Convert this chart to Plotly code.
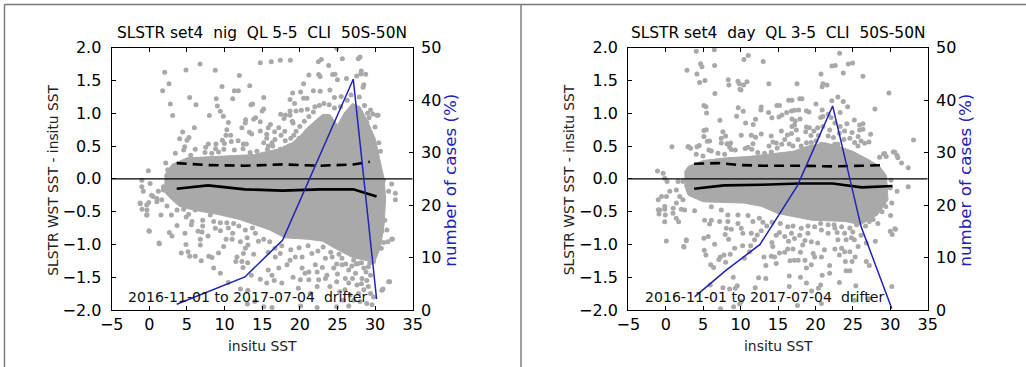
import plotly.graph_objects as go

W, H = 1026, 367
DOT = "#a9a9a9"
BLUE = "#2222b4"
FONT = "DejaVu Sans"

# ---------- left panel (night) ----------
night_title = "SLSTR set4  nig  QL 5-5  CLI  50S-50N"
night_cloud_x = [2, 3, 5, 8, 11, 14, 15, 17, 19, 20, 21, 22, 23, 24, 25, 26, 27, 28, 29, 30, 30.7, 31.2,
                 31.4, 31.2, 30.7, 30, 29, 28, 27, 25, 23, 21, 18, 16, 14, 12, 9, 6, 4, 3, 2]
night_cloud_y = [0.05, 0.22, 0.32, 0.34, 0.35, 0.37, 0.4, 0.45, 0.55, 0.65, 0.78, 0.88, 0.98, 0.98, 0.82, 1.02, 1.15, 1.1, 0.88, 0.62, 0.25, 0,
                 -0.3, -0.7, -1.05, -1.25, -1.25, -1.22, -1.2, -1.08, -0.95, -0.92, -0.9, -0.78, -0.7, -0.62, -0.54, -0.48, -0.42, -0.32, -0.2]
night_points = [
 (2.04,1.625),(2.62,1.45),(1.77,1.345),(2.79,1.14),(3.1,.965),(4.87,1.66),(6.74,1.75),(8.77,1.655),(11.96,1.575),(14.75,1.77),
 (9.66,1.41),(11.3,1.345),(11.83,1.345),(13.34,1.42),(5.36,1.24),(6.2,1.13),(8.9,1.22),(9.04,1.11),(11.08,1.22),(13.5,1.13),
 (13.73,1.14),(9.44,1.03),(9.84,.955),(7.98,.965),(10.5,.86),(12.8,.9),(12.76,.85),(13.87,.91),(14.13,.93),(14.75,.87),
 (12.3,.78),(10.3,.75),(5.98,.78),(4.43,.715),(4.03,.61),(5,.59),(5.27,.63),(10.19,.665),(10.8,.665),(13.3,.71),(13.6,.685),
 (14.75,.73),(9.7,.59),(9.97,.54),(8.86,.53),(7.84,.53),(7.49,.48),(4.7,.49),(4.57,.44),(6.1,.45),(10.9,.57),(11.8,.58),
 (12.5,.53),(12.9,.53),(9.9,.45),(8.8,.46),(11.3,.44),(12.45,.46),(8.3,.39),(9.2,.41),(7.4,.4),(5.5,.36),(3.46,.39),(14.3,.42),(13.4,.4),
 (16.2,1.787),(17.4,1.81),(18.74,1.81),(22.46,1.787),(22.86,1.82),(23.83,1.73),(25.65,1.83),(27.77,1.83),(28,1.86),(21.2,1.584),
 (22.5,1.59),(22.7,1.56),(24.36,1.59),(24.67,1.595),(25,1.51),(26.2,1.53),(28.17,1.645),(27.55,1.57),(28.75,1.595),(28.1,1.6),
 (20.5,1.45),(28.5,1.435),(28.4,1.396),(19.05,1.31),(20.1,1.325),(21.8,1.345),(22.7,1.335),(24,1.355),(15.2,1.24),(18.7,1.21),
 (20.5,1.23),(20.95,1.23),(24.6,1.24),(25.5,1.254),(19.3,1.15),(15.2,1.066),(15,1.035),(18.7,1.035),(20.2,1.045),(21,1.06),(19.5,1.035),
 (18.1,.975),(18.7,.97),(17.45,.985),(17.9,.92),(19,.88),(19.1,.85),(16.1,.83),(15.8,.78),(16.65,.72),(17.2,.78),(18,.725),
 (15.6,.68),(17.5,.665),(19.5,.725),(19.2,.665),(15.6,.62),(18.07,.58),(16.7,.6),(16.3,.55),(15.8,.5),(17.4,.45),(18.3,.43),(15.7,.45),
 (30.25,.97),(29.7,.99),(29.4,1.05),(30,.79),(28.9,.86),(29.2,.93),(30.5,.55),(30.7,.42),(24.9,1.99),(30.4,.97),
 (22,1.1),(22.6,1.12),(23.2,1.15),(23.9,1.13),(24.6,1.08),(25.4,1.1),(26.3,1.2),(26.8,1.28),(27.9,1.25),(28.6,1.12),(29,1.0),
 (21.2,.95),(21.8,1.02),(20.6,.88),(20,.8),(20.9,.72),(19.9,.62),(18.8,.62),(16.4,.5),(15.2,.55),(18.6,.5),
 (31.58,-.78),(32.3,-.917),(31.7,-.96),(31.14,-.97),(30.83,-1.06),(31.94,-1.57),(31.05,-1.68),(15.2,-.92),(16,-.96),(16.74,-1.19),
 (17.4,-1.14),(18.3,-1.31),(18.7,-1.24),(19.4,-1.19),(20.3,-1.19),(15.8,-1.39),(17.2,-1.36),(16.3,-1.47),(16.6,-1.55),(19.1,-1.5),
 (20.3,-1.36),(20.7,-1.44),(20.07,-1.54),(21.2,-1.42),(22.06,-1.31),(22.3,-1.42),(21.2,-1.54),(22.5,-1.54),(23.6,-1.47),(24.5,-1.36),
 (25.6,-1.31),(26.5,-1.39),(27.8,-1.29),(28.5,-1.36),(29.1,-1.34),(27.4,-1.44),(26.05,-1.52),(24.9,-1.57),(28.26,-1.52),(29.4,-1.47),
 (29.8,-1.26),(27.15,-1.24),(25.6,-1.21),(23.4,-1.21),(21.6,-1.14),(24.3,-1.19),(26.5,-1.59),(27.6,-1.62),(24,-1.64),(22.3,-1.64),
 (26,-1.69),(29.1,-1.64),(29.8,-1.8),(29.4,-1.75),(28.5,-1.69),(27.8,-1.75),(26.7,-1.77),(25.8,-1.85),(27.15,-1.85),(28,-1.87),
 (28.9,-1.9),(29.6,-1.92),(26.5,-1.94),(24.9,-1.95),(22.3,-1.96),(20.1,-1.94),(16.3,-1.96),(15.2,-1.95),(21.4,-1.75),(19.8,-1.67),(17.6,-1.59),(15.6,-1.59),
 (19.9,-1.05),(18.8,-1.08),(17.6,-1.02),(16.7,-1.06),(15.8,-1.12),(21.1,-1.02),(22.4,-1.1),(23.1,-1.04),(24.1,-1.12),(24.9,-1.3),(25.2,-1.15),
 (26.1,-1.3),(26.9,-1.33),(27.5,-1.3),(28.2,-1.28),(28.8,-1.42),(29.3,-1.28),(23,-1.35),(23.4,-1.52),(25,-1.45),(27,-1.52),(28.9,-1.55),(25.3,-1.72),(28.2,-1.6),
 (-1.2,-.38),(-.97,-.465),(-.31,-.55),(-.09,-.36),(0,-.8),(1.33,-.99),(1,-.35),(-.31,-.475),(1.55,-.55),(2.93,-.55),(2.35,-.415),
 (3.68,-.475),(4.56,-.465),(4.9,-.58),(3.68,-.71),(2.66,-.82),(3.01,-.87),(4.74,-.83),(4.87,-1),(4.25,-1.13),(5.14,-1.11),(5.36,-1.18),
 (6.1,-1.18),(6.9,-1.25),(7.9,-1.18),(8.33,-1.2),(9.2,-1.13),(9.88,-1.03),(6.78,-.92),(6.78,-1.01),(6.47,-.8),(7,-.81),(7.8,-.87),
 (5.58,-.7),(5.67,-.65),(7.09,-.63),(7.09,-.72),(8.77,-.755),(9.44,-.79),(8.55,-.65),(9.44,-.67),(10.3,-.67),(10.2,-.92),(11,-.92),
 (11.08,-.83),(12.1,-.96),(12.76,-1.06),(13.1,-1.01),(12.5,-1.14),(11.65,-1.19),(11.5,-1.26),(12.3,-1.26),(13.07,-1.28),(13.87,-1.15),
 (12.45,-1.35),(8.55,-1.36),(9.44,-1.44),(10.5,-1.58),(13.56,-1.47),(14.75,-1.53),(13.1,-1.7),(14,-1.87),(13.03,-1.91),(12.1,-1.68),
 (5.23,-.54),(6.1,-.475),(8.1,-.55),(9.2,-.5),(11.2,-.68),(12.76,-.78),(14.09,-.83),(11.9,-.72),(13,-.9),(14.5,-.95),(13.7,-.75),(10.5,-.75),
 (-1,-.02),(-.13,.125),(-1,-.12),(-.8,-.19),(-1.23,-.37),(.3,-.25),(1,-.3),(-.35,-.4),(-.35,-.55),(-.04,-.79),(1.3,-.98),(.1,-.07),
 (1.87,-.12),(1.65,-.32),(.5,-.27),(1.2,-.19),(2.18,.24),(2.44,.14),(1.87,-.17),
 (32.2,-.08),(31.8,-.19),(32.7,-.22),(32.7,-.32),(31.1,-.02),(31.3,-.63),(30.9,-.8),(32.2,-.92),(31.8,-1.57),(30.9,-1.7),
]
night_bin_x = [3.64, 7.8, 12.7, 17.7, 22.7, 27.1, 30.2]
night_pct = [1.1, 3.5, 6.3, 13.3, 29.6, 44, 2.1]
night_mean = [-0.15, -0.1, -0.16, -0.18, -0.16, -0.16, -0.27]
night_std_x = [3.64, 7.8, 12.7, 17.7, 22.7, 27.1, 29.3]
night_std = [0.24, 0.21, 0.2, 0.22, 0.2, 0.22, 0.26]

# ---------- right panel (day) ----------
day_title = "SLSTR set4  day  QL 3-5  CLI  50S-50N"
day_cloud_x = [2.5, 3, 5, 8, 11, 14, 17, 19, 21.3, 23, 25, 27, 28.5, 29.5,
               29.7, 28.3, 26, 24, 19.5, 15, 12.8, 10.5, 5, 3, 2.5]
day_cloud_y = [0.1, 0.19, 0.28, 0.32, 0.34, 0.38, 0.42, 0.5, 0.55, 0.5, 0.42, 0.3, 0.2, 0.05,
               -0.32, -0.55, -0.7, -0.65, -0.63, -0.53, -0.42, -0.37, -0.35, -0.25, -0.1]
day_points = [
 (4.08,1.945),(6.49,1.97),(10.45,1.82),(11.03,1.88),(13.03,1.79),(4.66,1.757),(4.84,1.71),(6.53,1.73),(2.84,1.655),(4.17,1.6),
 (4.53,1.47),(5.24,1.5),(8.35,1.51),(8.44,1.43),(9.65,1.487),(9.82,1.45),(10.4,1.43),(10.85,1.48),(9.91,1.365),(10.05,1.355),
 (13.78,1.45),(6.57,1.3),(5.1,1.12),(5.37,1.1),(5.46,1.005),(9.69,1.086),(10.36,1.03),(9.47,.954),(12.76,1.096),(12.72,1.05),
 (13.74,1.01),(14.85,1.12),(14.18,.93),(12,.91),(7.24,.893),(10.67,.85),(11.69,.83),(5.42,.75),(5.1,.736),(7.64,.72),(5.1,.644),
 (8,.654),(10.09,.665),(11.43,.665),(12,.634),(12.76,.685),(14.09,.654),(7.42,.62),(5.86,.578),(5.55,.573),(7.42,.548),(8.18,.537),
 (8.67,.548),(11.65,.537),(14.32,.563),(14.76,.548),(.83,.49),(3.06,.49),(3.33,.466),(4.17,.49),(4.48,.507),(8.53,.487),(8.75,.446),
 (9.29,.441),(10.62,.461),(10.98,.482),(11.5,.451),(5.77,.441),(6.09,.426),(6.98,.39),(4.08,.375),(4.97,.35),(7.87,.375),(12.3,.4),(14.1,.41),(13.2,.39),
 (23.23,1.914),(24.4,1.75),(24.97,1.767),(22.2,1.72),(22.65,1.73),(23.72,1.615),(20.74,1.6),(26.35,1.564),(17.54,1.45),(21,1.45),
 (21.54,1.43),(20.9,1.406),(29.82,1.31),(16.42,1.198),(16.87,1.2),(17.9,1.22),(18.2,1.22),(22.2,1.19),(23,1.25),(23.72,1.18),
 (20.07,1.14),(15.2,1.12),(24.3,1.1),(27.95,1.066),(16.8,1.035),(17.2,1.045),(17.76,1.05),(18.8,1.04),(19.14,1.02),(20.9,1.05),
 (16.16,1.01),(15.53,.975),(15.13,.944),(21.7,.985),(23.3,1.01),(20.7,.934),(21,.95),(22.1,.934),(16.87,.913),(17.94,.913),(17.3,.883),
 (25.2,.898),(24.2,.842),(25.9,.822),(26.35,.842),(17.2,.822),(16.87,.8),(18.8,.79),(19.2,.78),(20.3,.78),(26.35,.756),(25.9,.746),
 (17.45,.746),(19.8,.73),(21.9,.746),(23.9,.73),(15.45,.73),(16.25,.67),(16.8,.69),(24.9,.705),(27.37,.68),(33.1,.593),(21.7,.655),
 (23.2,.695),(25.7,.644),(27.15,.563),(26.57,.543),(26.1,.578),(29.24,.385),(30.6,.41),(28.57,.33),(29.46,.34),(31,.32),(25.24,.553),
 (22.57,.527),(23,.527),(20.8,.527),(19.45,.553),(17.67,.6),(15.9,.6),(18.1,.5),(17,.5),(15.5,.527),(25.68,.5),
 (18.7,.72),(19.4,.66),(20.4,.66),(21,.8),(22.6,.85),(23.3,.8),(24.6,.62),(22.4,.63),(23.8,.6),(20.1,.58),(18.8,.55),(16.5,.53),(14.9,.47),(13.8,.5),
 (-.81,-.475),(-.9,-.536),(-.14,-.465),(-.06,-.55),(-.14,-.653),(.97,-.526),(1.41,-.6),(1.72,-.653),(2.08,-.465),(2.53,-.475),(3.86,-.485),
 (.08,-.948),(2.75,-.943),(2.44,-1.04),(5.1,-.907),(5.68,-.88),(6.53,-.999),(5.15,-1.09),(5.37,-1.16),(7.11,-1.23),(7.29,-1.19),(7.78,-1.16),
 (8,-1.27),(8.62,-1.15),(9.2,-1.06),(10.27,-1.02),(11.2,-1.11),(11.34,-1.02),(10.5,-1.21),(11.87,-.93),(10.3,-.83),(11.43,-.83),(12.23,-.856),
 (12.76,-.79),(6,-1.31),(6.4,-1.35),(9.02,-1.5),(12.4,-1.51),(13.38,-1.52),(5.95,-1.62),(7.64,-1.66),(8.53,-1.68),(9.29,-1.67),(9.56,-1.63),
 (11.96,-1.66),(10.09,-1.87),(9.07,-1.95),(9.87,-1.91),(7.33,-1.98),(13.12,-1.19),(14.1,-1.18),(14.54,-1.19),(14.76,-1.29),(13.38,-1.32),
 (14.18,-.97),(14.3,-1.03),(14.76,-.86),(8.4,-.92),(7.95,-.85),(8.76,-.77),(8.1,-.755),(5.2,-.63),(6.09,-.63),(5.86,-.69),(7.2,-.65),(8.3,-.65),
 (9.65,-.68),(10.09,-.755),(11.65,-.65),(12.98,-.66),(8.3,-.55),(7.42,-.475),(6.09,-.425),(9.65,-.55),(13.5,-.72),(14.2,-.66),(12.5,-.6),(11,-.56),
 (-1.1,.12),(-.35,.085),(-.13,.01),(.18,-.04),(-1,-.32),(-.57,-.27),(.1,-.27),(.54,-.19),(1.42,-.17),(1.87,-.27),(2.3,-.32),(1.42,-.37),(1,-.45),
 (-.13,-.42),(-1,-.47),(2.97,.49),(2.3,-.04),(1.65,-.04),(2.4,-1.03),(2.75,-.93),(30.9,.36),(31.5,.24),(32.4,.17),(29.1,.38),(30.4,.41),
 (30.1,-.02),(30,-.14),(30.9,-.19),(32.4,-.12),(30.2,-.37),(30.6,-.76),(30,-.8),(30.2,-1.64),
 (30.04,-.56),(30.7,-.77),(30.26,-.85),(28.35,-.68),(28,-.95),(26.8,-.98),(25.7,-1.03),(25.3,-1.19),(26.8,-1.26),(27.2,-1.32),(24.9,-1.26),
 (24,-1.26),(24.1,-1.4),(24.6,-1.4),(21.9,-1.32),(21.9,-1.44),(20.9,-1.47),(18,-1.5),(16.5,-1.48),(23.2,-1.58),(18.8,-1.59),(16.5,-1.64),
 (20.7,-1.62),(20.4,-1.67),(19.5,-1.71),(25.4,-1.63),(27.1,-1.83),(25.2,-1.85),(17.6,-1.93),(20.8,-1.9),
 (17.2,-1.24),(16.6,-1.25),(17.7,-1.24),(18.6,-1.24),(18.8,-1.36),(19.45,-1.31),(15.2,-1.13),(15.9,-1.12),(16.3,-1.07),(17,-1.07),(18,-1.12),
 (19.7,-1.14),(19.9,-1.19),(20.8,-1.19),(21.2,-1.08),(22.6,-1.07),(23.5,-1.06),(23.9,-1.11),(23.2,-1.16),(24.6,-1.11),(25.2,-.93),(24.1,-.93),
 (23,-.93),(21.7,-.83),(20.3,-.98),(19.45,-.96),(18.3,-1.01),(17.2,-.91),(15.9,-.88),(15.2,-.82),(16.8,-.83),(17.9,-.86),(19,-.83),(20.8,-.78),
 (22.6,-.75),(23.9,-.83),(25,-.81),(26.1,-.86),(16.3,-.73),(18.1,-.755),(19.9,-.73),(21.7,-.7),(23.5,-.73),(25.5,-.7),(27.2,-.65),
 (15.3,-.68),(17,-.72),(19,-.72),(20.7,-.68),(22.5,-.7),(24.6,-.75),(26.7,-.72),(27.7,-.62),(28.9,-.5),(29.4,-.42),(22.9,-.82),(24.8,-.9),(18.6,-.94),(16.4,-.95),
]
day_bin_x = [3.86, 8, 12.6, 17.6, 22.3, 26.1, 30.2]
day_pct = [2.5, 7.5, 12.5, 23.7, 38.9, 15.9, 0.3]
day_mean_x = [3.8, 7.8, 12.8, 17.8, 22.3, 26.2, 30.3]
day_mean = [-0.15, -0.1, -0.09, -0.07, -0.07, -0.13, -0.11]
day_std_x = [3.8, 7, 10, 13, 18, 22.3, 26.2, 29.3]
day_std = [0.23, 0.24, 0.21, 0.2, 0.2, 0.19, 0.2, 0.21]

# shared axis labels and ticks
x_label = "insitu SST"
y_label = "SLSTR WST SST - insitu SST"
y2_label = "number of cases (%)"
note = "2016-11-01 to 2017-07-04  drifter"
x_ticks = [-5, 0, 5, 10, 15, 20, 25, 30, 35]
y_ticks = [-2, -1.5, -1, -0.5, 0, 0.5, 1, 1.5, 2]
y2_ticks = [0, 10, 20, 30, 40, 50]

fig = go.Figure()


def add_panel(n, left, right, title, cx, cy, pts, bx, pct, mx, mean, sx, std):
    xa, ya, ya2 = f"x{n}", f"y{2 * n - 1}", f"y{2 * n}"
    fig.add_trace(go.Scatter(x=cx, y=cy, xaxis=xa, yaxis=ya, mode="lines", fill="toself",
                             fillcolor=DOT, line=dict(color=DOT, width=1), hoverinfo="skip"))
    fig.add_trace(go.Scatter(x=[p[0] for p in pts], y=[p[1] for p in pts], xaxis=xa, yaxis=ya, mode="markers",
                             marker=dict(color=DOT, size=5, line=dict(width=0))))
    fig.add_trace(go.Scatter(x=[-5, 35], y=[0, 0], xaxis=xa, yaxis=ya, mode="lines",
                             line=dict(color="black", width=1.3)))
    fig.add_trace(go.Scatter(x=mx, y=mean, xaxis=xa, yaxis=ya, mode="lines",
                             line=dict(color="black", width=2.6)))
    fig.add_trace(go.Scatter(x=sx, y=std, xaxis=xa, yaxis=ya, mode="lines",
                             line=dict(color="black", width=2.6, dash="10px,6px")))
    fig.add_trace(go.Scatter(x=bx, y=pct, xaxis=xa, yaxis=ya2, mode="lines",
                             line=dict(color=BLUE, width=1.5)))
    dom = [left / W, right / W]
    ydom = [1 - 310 / H, 1 - 47.7 / H]
    axis_line = dict(showline=True, linecolor="black", linewidth=1.3, showgrid=False, zeroline=False,
                     ticks="inside", ticklen=4, tickcolor="black", tickwidth=1,
                     tickfont=dict(family=FONT, size=16, color="black"))
    lay = {}
    lay["xaxis" + ("" if n == 1 else str(n))] = dict(
        domain=dom, range=[-5, 35], tickvals=x_ticks, anchor=ya, mirror="ticks", ticklabelstandoff=0, **axis_line)
    lay[f"yaxis{'' if n == 1 else 2 * n - 1}"] = dict(
        domain=ydom, range=[-2, 2], tickvals=y_ticks, tickformat=".1f", anchor=xa, ticklabelstandoff=6, **axis_line)
    lay[f"yaxis{2 * n}"] = dict(
        domain=ydom, range=[0, 50], tickvals=y2_ticks, anchor=xa, overlaying=ya, side="right",
        ticklabelstandoff=4, **axis_line)
    fig.update_layout(**lay)
    cx_px = (left + right) / 2
    anns = [
        (cx_px, 33.5, title, 15.4, "black", 0),
        (cx_px, 346, x_label, 13.9, "#222222", 0),
        (left - 59, 180, y_label, 13.8, "#222222", -90),
        (right + 37, 180, y2_label, 16.7, BLUE, -90),
    ]
    for ax, ay, text, size, color, ang in anns:
        fig.add_annotation(x=ax / W, y=1 - ay / H, xref="paper", yref="paper", text=text, showarrow=False,
                           textangle=ang, xanchor="center", yanchor="middle",
                           font=dict(family=FONT, size=size, color=color))
    fig.add_annotation(x=(left + 14.3) / W, y=1 - 297 / H, xref="paper", yref="paper", text=note, showarrow=False,
                       xanchor="left", yanchor="middle", font=dict(family=FONT, size=14.1, color="#111111"))


add_panel(1, 111.7, 412.7, night_title, night_cloud_x, night_cloud_y, night_points,
          night_bin_x, night_pct, night_bin_x, night_mean, night_std_x, night_std)
add_panel(2, 628.3, 927.7, day_title, day_cloud_x, day_cloud_y, day_points,
          day_bin_x, day_pct, day_mean_x, day_mean, day_std_x, day_std)

frame = dict(color="#777777", width=1.4)
fig.update_layout(
    width=W, height=H, margin=dict(l=0, r=0, t=0, b=0, autoexpand=False), showlegend=False,
    paper_bgcolor="white", plot_bgcolor="white",
    shapes=[
        dict(type="line", xref="paper", yref="paper", x0=4.5 / W, x1=1, y0=1 - 4.5 / H, y1=1 - 4.5 / H, line=frame),
        dict(type="line", xref="paper", yref="paper", x0=4.5 / W, x1=4.5 / W, y0=0, y1=1 - 4.5 / H, line=frame),
        dict(type="line", xref="paper", yref="paper", x0=521 / W, x1=521 / W, y0=0, y1=1 - 4.5 / H, line=frame),
    ],
)
fig.write_html("out.html", config=dict(displayModeBar=False),
               post_script="document.body.style.margin='0';document.documentElement.style.overflow='hidden';")
